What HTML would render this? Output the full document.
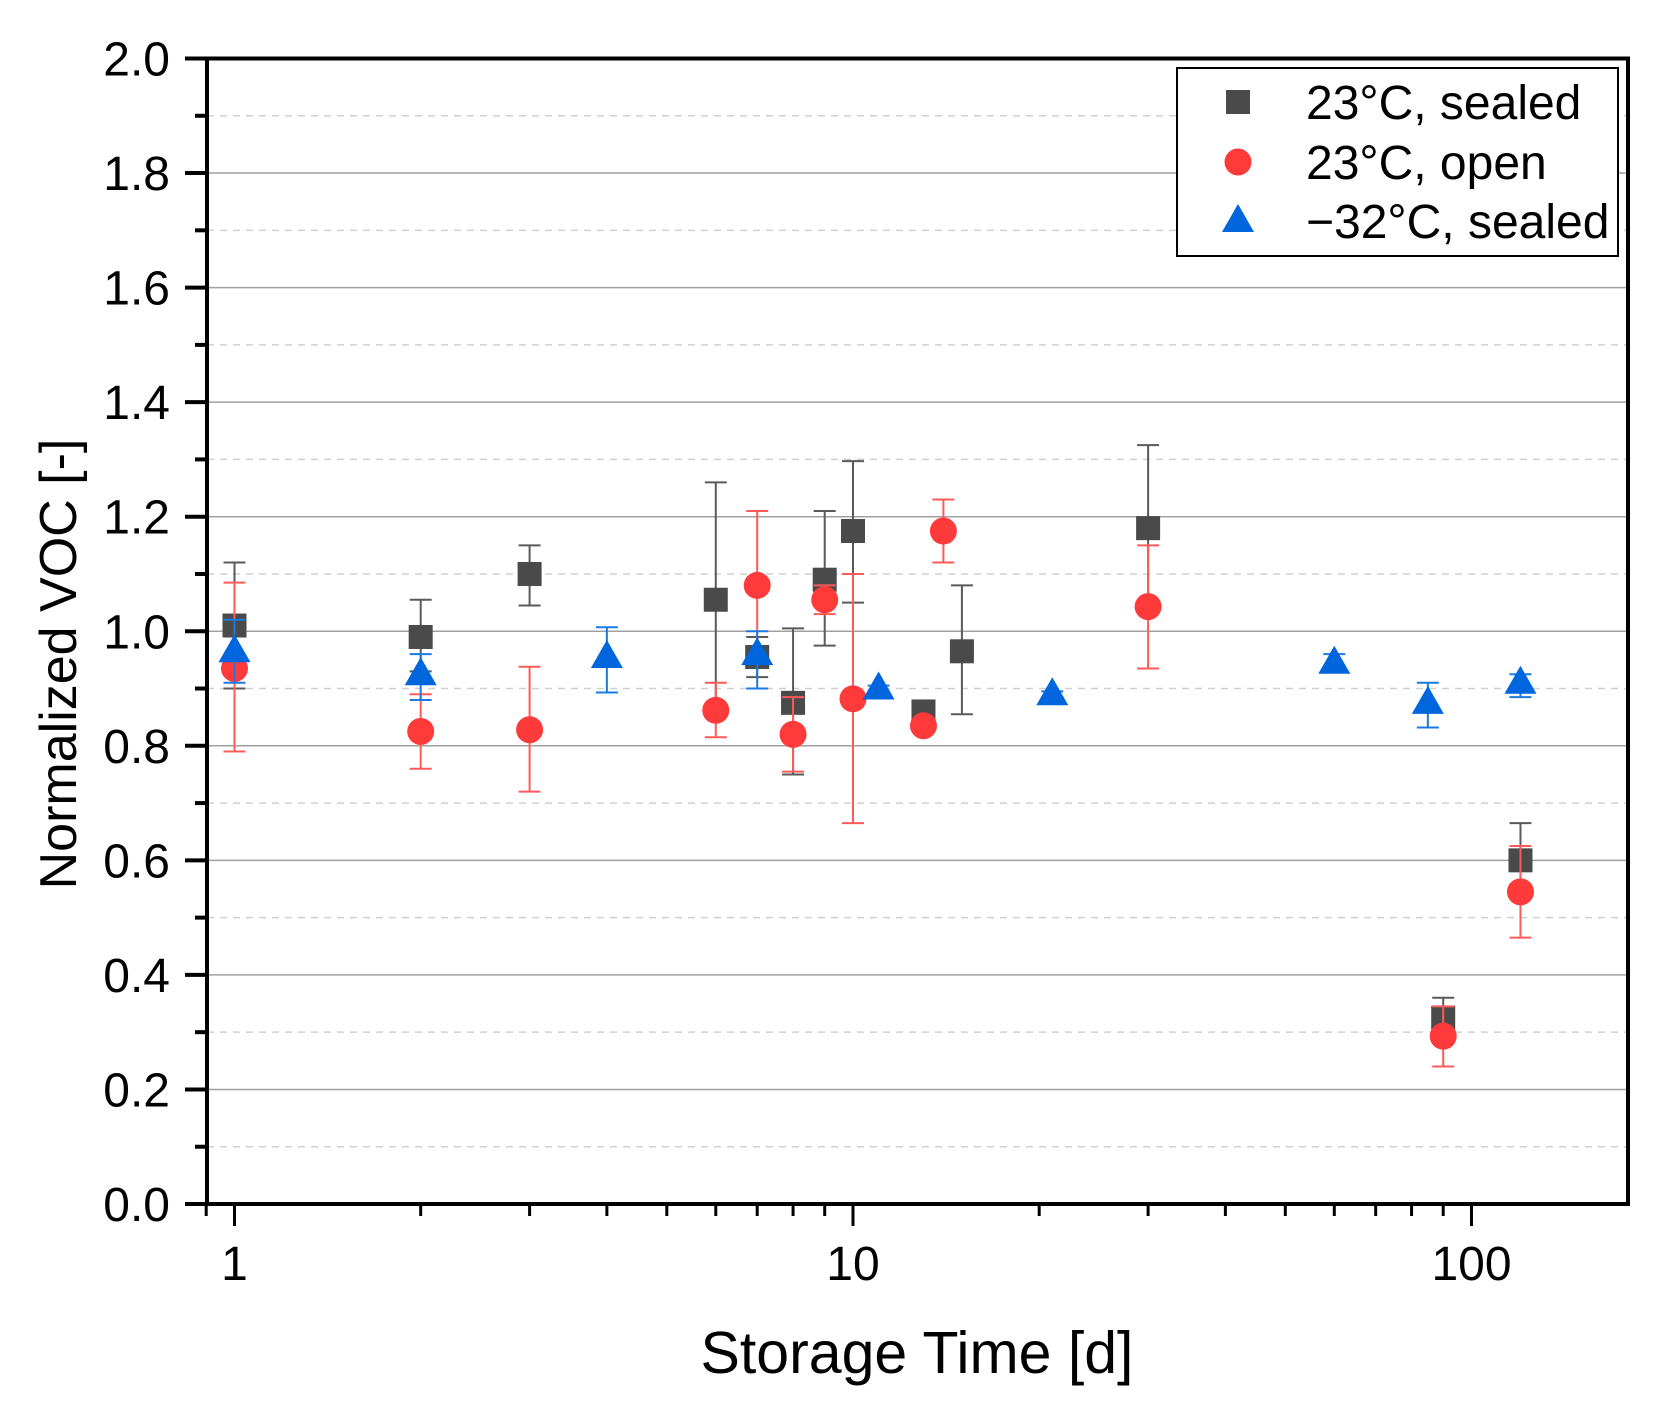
<!DOCTYPE html>
<html><head><meta charset="utf-8"><style>
html,body{margin:0;padding:0;background:#fff;}
svg{display:block;font-family:"Liberation Sans",Arial,sans-serif;}
</style></head><body>
<svg id="chart" width="1662" height="1411" viewBox="0 0 1662 1411" xmlns="http://www.w3.org/2000/svg">
<g id="grid"></g>
<g id="series"></g>
<g id="axes"></g>
<text x="0" y="0" transform="translate(76,664) rotate(-90)" text-anchor="middle" font-size="52">Normalized VOC [-]</text>
<text x="917" y="1373" text-anchor="middle" font-size="59">Storage Time [d]</text>
<g>
<rect x="1177" y="68" width="441" height="188" fill="#fff" stroke="#000" stroke-width="2"/>
<g>
<rect x="1226" y="90" width="24" height="24" fill="#4a4a4a"/>
<text x="1306" y="119" font-size="48">23°C, sealed</text></g>
<g>
<circle cx="1238" cy="162" r="13.5" fill="#ff3a3a"/>
<text x="1306" y="179" font-size="48">23°C, open</text></g>
<g>
<polygon points="1238,204 1254,232 1222,232" fill="#0066dd"/>
<text x="1306" y="238" font-size="48">−32°C, sealed</text></g>
</g>
</svg>
<script>
// data
const sealedX = [1,2,3,6,7,8,9,10,13,15,30,90,120];
const sealedY = [1.01,0.99,1.10,1.055,0.955,0.875,1.09,1.175,0.86,0.965,1.18,0.325,0.60];
const sealedLo = [0.90,0.93,1.045,0.855,0.92,0.75,0.975,1.05,0.85,0.855,1.04,0.29,0.54];
const sealedHi = [1.12,1.055,1.15,1.26,0.99,1.005,1.21,1.297,0.87,1.08,1.325,0.36,0.665];
const openX = [1,2,3,6,7,8,9,10,13,14,30,90,120];
const openY = [0.935,0.825,0.828,0.862,1.08,0.82,1.055,0.882,0.835,1.175,1.043,0.293,0.545];
const openLo = [0.79,0.76,0.72,0.815,0.95,0.755,1.03,0.665,0.83,1.12,0.935,0.24,0.465];
const openHi = [1.085,0.89,0.938,0.91,1.21,0.885,1.08,1.10,0.84,1.23,1.15,0.345,0.625];
const coldX = [1,2,4,7,11,21,60,85,120];
const coldY = [0.965,0.925,0.955,0.96,0.90,0.89,0.945,0.875,0.91];
const coldLo = [0.91,0.88,0.893,0.90,0.895,0.885,0.93,0.832,0.885];
const coldHi = [1.02,0.96,1.007,1.0,0.905,0.895,0.96,0.91,0.925];
const yTicks = ["0.0","0.2","0.4","0.6","0.8","1.0","1.2","1.4","1.6","1.8","2.0"];
const xTicks = ["1","10","100"];

const L=207,R=1628,T=58.5,B=1204;
const X0=234.5,DEC=618.5;
const sx=v=>X0+Math.log10(v)*DEC;
const sy=v=>B-(v/2)*(B-T);
const NS="http://www.w3.org/2000/svg";
function mk(tag,attrs,parent){const e=document.createElementNS(NS,tag);for(const k in attrs)e.setAttribute(k,attrs[k]);parent.appendChild(e);return e;}
const grid=document.getElementById('grid'),axes=document.getElementById('axes'),ser=document.getElementById('series');

for(let i=0;i<yTicks.length;i++){
  const v=parseFloat(yTicks[i]),y=sy(v);
  if(i>0&&i<yTicks.length-1){const g=mk('line',{x1:L,x2:R,y1:y,y2:y,stroke:'#a0a0a0','stroke-width':1.5},grid);
  
  }
  const t=mk('line',{x1:L-22,x2:L,y1:y,y2:y,stroke:'#000','stroke-width':4},axes);
  
  
  const lb=mk('text',{x:L-37,y:y+17,'text-anchor':'end','font-size':48},axes);lb.textContent=yTicks[i];
  
  
  if(i<yTicks.length-1){const ym=sy(v+0.1);
    const d=mk('line',{x1:L,x2:R,y1:ym,y2:ym,stroke:'#d0d0d0','stroke-width':1.5,'stroke-dasharray':'7,6'},grid);
    
    
    const mt=mk('line',{x1:L-12,x2:L,y1:ym,y2:ym,stroke:'#000','stroke-width':4},axes);
    
    }
}
for(let d=-1;d<=2;d++){for(let m=1;m<10;m++){const v=m*Math.pow(10,d),x=sx(v);if(x<L-1||x>R)continue;
  const major=(m===1);
  const t=mk('line',{x1:x,x2:x,y1:B,y2:B+(major?22:12),stroke:'#000','stroke-width':3},axes);
  
  }}
xTicks.forEach(s=>{const lb=mk('text',{x:sx(parseFloat(s)),y:B+76,'text-anchor':'middle','font-size':48},axes);lb.textContent=s;
  
  });
const frame=mk('rect',{x:L,y:T,width:R-L,height:B-T,fill:'none',stroke:'#000','stroke-width':4},axes);



function errbars(xs,lo,hi,col,name){xs.forEach((v,i)=>{const x=sx(v),y1=sy(lo[i]),y2=sy(hi[i]);
  const g=mk('g',{stroke:col,'stroke-width':2},ser);
  
  
  mk('line',{x1:x,x2:x,y1:y1,y2:y2},g);mk('line',{x1:x-11,x2:x+11,y1:y1,y2:y1},g);mk('line',{x1:x-11,x2:x+11,y1:y2,y2:y2},g);});}
errbars(sealedX,sealedLo,sealedHi,'#5a5a5a','sealed-23');
sealedX.forEach((v,i)=>{const r=mk('rect',{x:sx(v)-12,y:sy(sealedY[i])-12,width:24,height:24,fill:'#4a4a4a'},ser);
  
  });
errbars(openX,openLo,openHi,'#ff5a5a','open-23');
openX.forEach((v,i)=>{const c=mk('circle',{cx:sx(v),cy:sy(openY[i]),r:13.5,fill:'#ff3a3a'},ser);
  
  });
errbars(coldX,coldLo,coldHi,'#1a7ae0','sealed-minus32');
coldX.forEach((v,i)=>{const x=sx(v),y=sy(coldY[i]);const p=mk('polygon',{points:`${x},${y-17} ${x+16},${y+11} ${x-16},${y+11}`,fill:'#0066dd'},ser);
  
  });
</script>
</body></html>
